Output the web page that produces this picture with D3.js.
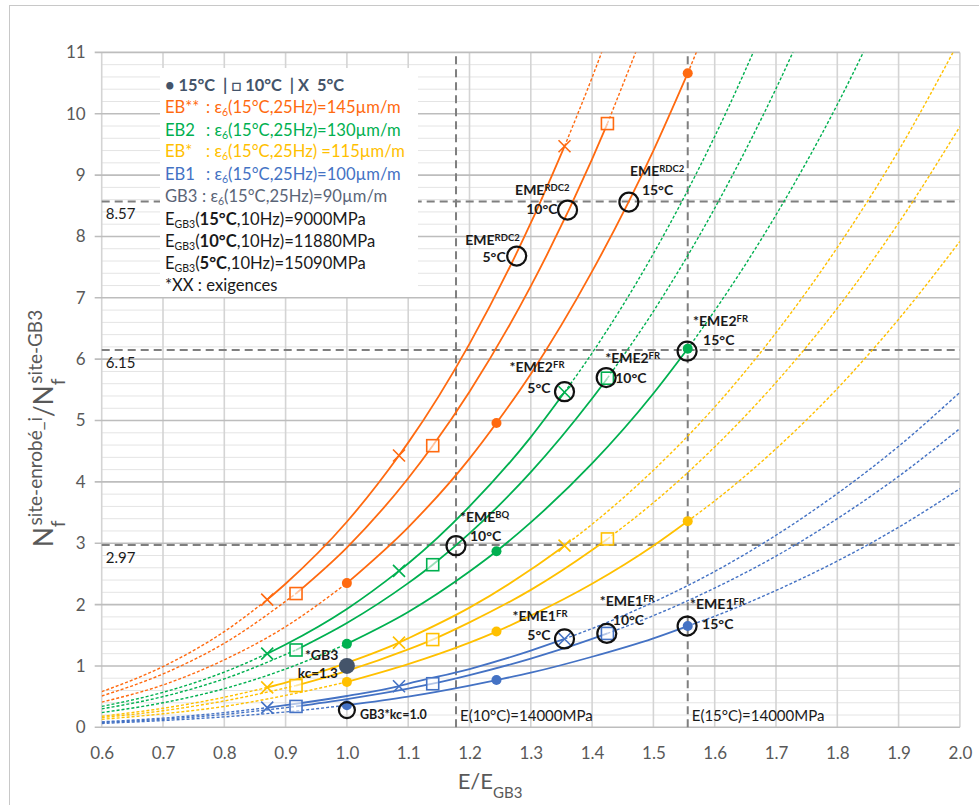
<!DOCTYPE html>
<html><head><meta charset="utf-8">
<script src="https://cdn.jsdelivr.net/npm/d3@7"></script>
<style>
body{margin:0;background:#fff}
svg{display:block}
text{font-family:Lato,"Open Sans",sans-serif}
</style>
</head><body>
<svg id="c" width="979" height="805"></svg>
<script>
// ---------------- DATA ----------------
const gridX = [0.6,0.7,0.8,0.9,1.0,1.1,1.2,1.3,1.4,1.5,1.6,1.7,1.8,1.9,2.0];
const yTicks = [0,1,2,3,4,5,6,7,8,9,10,11];
const xTicks = [0.6,0.7,0.8,0.9,1.0,1.1,1.2,1.3,1.4,1.5,1.6,1.7,1.8,1.9,2.0];
const temps = ["15°C","10°C","5°C"];
const markerX15 = [1.0,1.244,1.556];
const markerX10 = [0.917,1.14,1.425];
const markerX5  = [0.87,1.085,1.355];

// EB** (orange)
const ebss15 = [0.41,0.69,1.10,1.64,2.35,3.26,4.38,5.76,7.43,9.40,11.73];
const ebss10 = [0.51,0.87,1.37,2.04,2.93,4.06,5.47,7.19,9.26,11.73];
const ebss5  = [0.58,0.99,1.56,2.34,3.35,4.64,6.25,8.22,10.59,13.41];
const ebssM15 = [2.35,4.96,10.66];
const ebssM10 = [2.18,4.59,9.84];
const ebssM5  = [2.08,4.43,9.47];
// EB2 (green)
const eb2_15 = [0.24,0.40,0.63,0.95,1.36,1.88,2.54,3.34,4.30,5.44,6.79,8.35,10.15,12.22];
const eb2_10 = [0.30,0.50,0.79,1.18,1.70,2.35,3.16,4.16,5.36,6.78,8.46,10.41,12.65];
const eb2_5  = [0.34,0.57,0.90,1.35,1.93,2.67,3.60,4.73,6.10,7.72,9.63,11.85];
const eb2M15 = [1.36,2.87,6.17];
const eb2M10 = [1.26,2.65,5.69];
const eb2M5  = [1.20,2.55,5.46];
// EB* (yellow)
const ebs15 = [0.13,0.22,0.34,0.52,0.74,1.03,1.38,1.82,2.34,2.96,3.69,4.54,5.52,6.65,7.92];
const ebs10 = [0.16,0.27,0.43,0.64,0.92,1.27,1.71,2.24,2.89,3.66,4.57,5.62,6.83,8.22,9.79];
const ebs5  = [0.18,0.31,0.49,0.73,1.05,1.45,1.95,2.57,3.31,4.19,5.22,6.43,7.82,9.40,11.21];
const ebsM15 = [0.74,1.56,3.36];
const ebsM10 = [0.68,1.43,3.07];
const ebsM5  = [0.65,1.38,2.96];
// EB1 (blue)
const eb1_15 = [0.063,0.11,0.17,0.25,0.36,0.50,0.68,0.89,1.15,1.45,1.81,2.23,2.71,3.26,3.89];
const eb1_10 = [0.079,0.13,0.21,0.32,0.46,0.63,0.85,1.12,1.44,1.82,2.27,2.79,3.40,4.09,4.87];
const eb1_5  = [0.089,0.15,0.24,0.36,0.51,0.71,0.95,1.25,1.61,2.04,2.54,3.13,3.81,4.58,5.46];
const eb1M15 = [0.36,0.77,1.65];
const eb1M10 = [0.34,0.71,1.53];
const eb1M5  = [0.32,0.67,1.44];
// GB3 reference points
const gb3Kc13 = [1.0,1.0];
const gb3Kc10 = [1.0,0.28];

// requirement lines
const hRefs = [8.57,6.15,2.97];
const vRefs = [1.178,1.556];
const vRefLabels = ["E(10°C)=14000MPa","E(15°C)=14000MPa"];

// highlighted points (open black circles)
const circX = [1.277,1.36,1.46,1.355,1.423,1.555,1.178,1.355,1.424,1.555];
const circY = [7.68,8.43,8.56,5.47,5.70,6.13,2.96,1.44,1.53,1.65];
const circName = ["EME","EME","EME","*EME2","*EME2","*EME2","*EME","*EME1","*EME1","*EME1"];
const circSup  = ["RDC2","RDC2","RDC2","FR","FR","FR","BQ","FR","FR","FR"];
const circTemp = ["5°C","10°C","15°C","5°C","10°C","15°C","10°C","5°C","10°C","15°C"];

const colors = {orange:"#FF6A10", green:"#00B050", yellow:"#FFC000", blue:"#4472C4", slate:"#44546A"};

// ---------------- LAYOUT ----------------
const svg = d3.select("#c");
const X0 = 101.7, X1 = 959.9, Y0 = 727.3, Y1 = 52.4;
const x = d3.scaleLinear().domain([0.6,2.0]).range([X0,X1]);
const y = d3.scaleLinear().domain([0,11]).range([Y0,Y1]);

// outer chart border
svg.append("rect").attr("x",9.5).attr("y",5.5).attr("width",1000).attr("height",900)
  .attr("fill","none").attr("stroke","#c8c8c8").attr("stroke-width",1);

// grid
const g = svg.append("g");
const minor = d3.range(0,11.01,0.2).filter(v=>Math.abs(v-Math.round(v))>1e-6);
g.selectAll(".mn").data(minor).enter().append("line")
  .attr("x1",X0).attr("x2",X1).attr("y1",d=>y(d)).attr("y2",d=>y(d))
  .attr("stroke","#e4e4e4").attr("stroke-width",1);
g.selectAll(".vg").data(xTicks).enter().append("line")
  .attr("x1",d=>x(d)).attr("x2",d=>x(d)).attr("y1",Y0).attr("y2",Y1)
  .attr("stroke","#d4d4d4").attr("stroke-width",1.6);
g.selectAll(".mj").data(yTicks).enter().append("line")
  .attr("x1",X0-7).attr("x2",X1).attr("y1",d=>y(d)).attr("y2",d=>y(d))
  .attr("stroke","#bdbdbd").attr("stroke-width",1.6);

// axes labels
const yAx = svg.append("g").attr("transform",`translate(${X0-7},0)`)
  .call(d3.axisLeft(y).tickValues(yTicks).tickSize(0).tickPadding(9).tickFormat(d3.format("d")));
yAx.select(".domain").remove();
yAx.selectAll("text").attr("font-size",17).attr("fill","#595959").attr("font-family","Lato");
const xAx = svg.append("g").attr("transform",`translate(0,${Y0})`)
  .call(d3.axisBottom(x).tickValues(xTicks).tickSize(0).tickPadding(20).tickFormat(d3.format(".1f")));
xAx.select(".domain").remove();
xAx.selectAll("text").attr("font-size",17).attr("fill","#595959").attr("font-family","Lato");

// reference lines
const refC = "#7f7f7f";
svg.selectAll(".hr").data(hRefs).enter().append("line")
  .attr("x1",X0).attr("x2",X1).attr("y1",d=>y(d)).attr("y2",d=>y(d))
  .attr("stroke",refC).attr("stroke-width",2).attr("stroke-dasharray","8,5");
svg.selectAll(".hrl").data(hRefs).enter().append("text")
  .attr("x",X0+4).attr("y",d=>y(d)+18).attr("font-size",15).attr("fill","#1a1a1a")
  .text(d=>d.toFixed(2));
svg.selectAll(".vr").data(vRefs).enter().append("line")
  .attr("x1",d=>x(d)).attr("x2",d=>x(d)).attr("y1",Y0).attr("y2",Y1)
  .attr("stroke",refC).attr("stroke-width",2).attr("stroke-dasharray","8,5");
svg.selectAll(".vrl").data(vRefs).enter().append("text")
  .attr("x",d=>x(d)+4).attr("y",Y0-6).attr("font-size",15).attr("fill","#1a1a1a")
  .text((d,i)=>vRefLabels[i]);

// curves
svg.append("clipPath").attr("id","plot").append("rect")
  .attr("x",X0).attr("y",Y1).attr("width",X1-X0).attr("height",Y0-Y1);
const series = [
  {c:colors.blue,   curves:[eb1_5,eb1_10,eb1_15], marks:[eb1M5,eb1M10,eb1M15]},
  {c:colors.yellow, curves:[ebs5,ebs10,ebs15],    marks:[ebsM5,ebsM10,ebsM15]},
  {c:colors.green,  curves:[eb2_5,eb2_10,eb2_15], marks:[eb2M5,eb2M10,eb2M15]},
  {c:colors.orange, curves:[ebss5,ebss10,ebss15], marks:[ebssM5,ebssM10,ebssM15]}
];
const mX = [markerX5, markerX10, markerX15];
const shapes = ["x","sq","dot"];
const line = d3.line().x(d=>x(d[0])).y(d=>y(d[1])).curve(d3.curveMonotoneX);
const cg = svg.append("g").attr("clip-path","url(#plot)");
const mg = svg.append("g");
series.forEach(s=>{
  s.curves.forEach((vals,ti)=>{
    const mx = mX[ti], my = s.marks[ti];
    const pts = vals.map((v,i)=>[gridX[i],v]);
    const mk = mx.map((v,i)=>[v,my[i]]);
    const m1 = mx[0], m3 = mx[2];
    const low = pts.filter(p=>p[0]<m1-0.02).concat([mk[0]]);
    const mid = pts.filter(p=>p[0]>m1+0.02 && p[0]<m3-0.02).concat(mk).sort((a,b)=>a[0]-b[0]);
    const high = [mk[2]].concat(pts.filter(p=>p[0]>m3+0.02));
    [low,high].forEach(seg=>{
      cg.append("path").attr("d",line(seg)).attr("fill","none")
        .attr("stroke",s.c).attr("stroke-width",1.4).attr("stroke-dasharray","3,2");
    });
    cg.append("path").attr("d",line(mid)).attr("fill","none")
      .attr("stroke",s.c).attr("stroke-width",1.8);
    mk.forEach(p=>{
      const px = x(p[0]), py = y(p[1]);
      if (shapes[ti]==="dot") {
        mg.append("circle").attr("cx",px).attr("cy",py).attr("r",5).attr("fill",s.c);
      } else if (shapes[ti]==="sq") {
        mg.append("rect").attr("x",px-6).attr("y",py-6).attr("width",12).attr("height",12)
          .attr("fill","#fff").attr("fill-opacity",0.6).attr("stroke",s.c).attr("stroke-width",1.6);
      } else {
        mg.append("path").attr("d",`M${px-6},${py-6}L${px+6},${py+6}M${px-6},${py+6}L${px+6},${py-6}`)
          .attr("stroke",s.c).attr("stroke-width",1.6);
      }
    });
  });
});

// GB3 points
mg.append("circle").attr("cx",x(gb3Kc13[0])).attr("cy",y(gb3Kc13[1])).attr("r",8).attr("fill",colors.slate);
mg.append("circle").attr("cx",x(gb3Kc10[0])).attr("cy",y(gb3Kc10[1])).attr("r",8)
  .attr("fill","none").attr("stroke","#111").attr("stroke-width",2.2);

// highlight circles
circX.forEach((cx,i)=>{
  mg.append("circle").attr("cx",x(cx)).attr("cy",y(circY[i])).attr("r",9.5)
    .attr("fill","none").attr("stroke","#111").attr("stroke-width",2.2);
});

// annotation labels : [dx1,dy1,anchor1,dx2,dy2,anchor2] relative to circle centre
const annOff = [
  [3,-11,"end",-11,6,"end"],
  [2,-15,"end",-10,4,"end"],
  [1,-26,"start",13,-7,"start"],
  [0,-20,"end",-14,1,"end"],
  [-1,-15,"start",9,5,"start"],
  [6,-25,"start",16,-6,"start"],
  [4,-24,"start",14,-5,"start"],
  [3,-18,"end",-14,1,"end"],
  [-7,-27,"start",6,-8,"start"],
  [3,-17,"start",15,3,"start"]
];
const ag = svg.append("g").attr("font-weight","bold").attr("fill","#1a1a1a");
circX.forEach((cx,i)=>{
  const px = x(cx), py = y(circY[i]), o = annOff[i];
  const t1 = ag.append("text").attr("x",px+o[0]).attr("y",py+o[1]).attr("text-anchor",o[2]).attr("font-size",14);
  t1.append("tspan").text(circName[i]);
  t1.append("tspan").attr("font-size",9.5).attr("baseline-shift","45%").text(circSup[i]);
  ag.append("text").attr("x",px+o[3]).attr("y",py+o[4]).attr("text-anchor",o[5]).attr("font-size",14).text(circTemp[i]);
});
{
  const px = x(gb3Kc13[0]), py = y(gb3Kc13[1]);
  ag.append("text").attr("x",px-42).attr("y",py-6).attr("font-size",14).text("*GB3");
  ag.append("text").attr("x",px-9).attr("y",py+12).attr("text-anchor","end").attr("font-size",13.5).text("kc=1.3");
  const qx = x(gb3Kc10[0]), qy = y(gb3Kc10[1]);
  ag.append("text").attr("x",qx+13).attr("y",qy+9).attr("font-size",12.5).text("GB3*kc=1.0");
}

// legend
const lg = svg.append("g");
lg.append("rect").attr("x",160).attr("y",68).attr("width",258).attr("height",229).attr("fill","#fff");
const lgY = [90.5,113,135.5,157,179.5,202,224.5,247,269,290.5];
const lfs = 16.6;
lg.append("text").attr("x",165).attr("y",lgY[0]).attr("font-size",16.4).attr("font-weight","bold")
  .attr("fill",colors.slate).attr("xml:space","preserve").style("white-space","pre")
  .text("• 15°C  | □ 10°C  | X  5°C");
const legNames = ["EB**","EB2","EB*","EB1","GB3"];
const legCols = [colors.orange,colors.green,colors.yellow,colors.blue,"#5B6577"];
const legVals = ["=145µm/m","=130µm/m"," =115µm/m","=100µm/m","=90µm/m"];
legNames.forEach((n,i)=>{
  const yy = lgY[i+1];
  lg.append("text").attr("x",165).attr("y",yy).attr("font-size",lfs).attr("fill",legCols[i]).text(n);
  const t = lg.append("text").attr("x",i===4?202:206).attr("y",yy).attr("font-size",lfs).attr("fill",legCols[i])
    .style("white-space","pre");
  t.append("tspan").text(": ε");
  t.append("tspan").attr("font-size",10.5).attr("baseline-shift","-3").text("6");
  t.append("tspan").text("(15°C,25Hz)"+legVals[i]);
});
const legE = [["15°C","=9000MPa"],["10°C","=11880MPa"],["5°C","=15090MPa"]];
legE.forEach((e,i)=>{
  const t = lg.append("text").attr("x",165).attr("y",lgY[6+i]).attr("font-size",lfs).attr("fill","#1a1a1a");
  t.append("tspan").text("E");
  t.append("tspan").attr("font-size",10.5).attr("baseline-shift","-3").text("GB3");
  t.append("tspan").text("(");
  t.append("tspan").attr("font-weight","bold").text(e[0]);
  t.append("tspan").text(",10Hz)"+e[1]);
});
lg.append("text").attr("x",165).attr("y",lgY[9]).attr("font-size",lfs).attr("fill","#1a1a1a").text("*XX : exigences");

// axis titles
const yt = svg.append("text").attr("transform","translate(53,547) rotate(-90)")
  .attr("font-size",26).attr("fill","#595959");
yt.append("tspan").text("N");
yt.append("tspan").attr("font-size",19).attr("baseline-shift","sub").text("f");
yt.append("tspan").attr("font-size",19).attr("dx",-5).attr("baseline-shift","super").text("site-enrobé_i");
yt.append("tspan").text("/N");
yt.append("tspan").attr("font-size",19).attr("baseline-shift","sub").text("f");
yt.append("tspan").attr("font-size",19).attr("dx",-5).attr("baseline-shift","super").text("site-GB3");

const xt = svg.append("text").attr("x",490).attr("y",789).attr("text-anchor","middle")
  .attr("font-size",22).attr("fill","#595959");
xt.append("tspan").text("E/E");
xt.append("tspan").attr("font-size",15).attr("baseline-shift","sub").text("GB3");
</script>
</body></html>
